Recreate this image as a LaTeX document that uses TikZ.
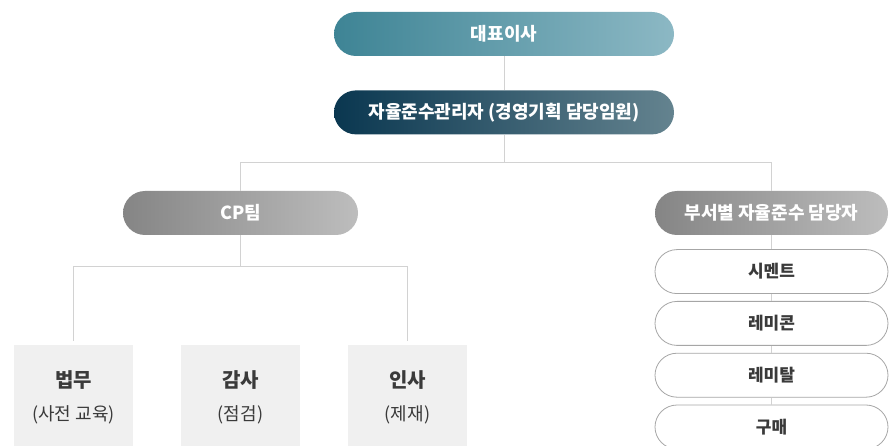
\documentclass[tikz,border=0pt]{standalone}
\usepackage{fontspec}
\setmainfont{Noto Sans CJK KR}
\usepackage{xcolor}
\usepackage{tikz}
\usetikzlibrary{positioning,calc}
\definecolor{ceoleft}{HTML}{3E8495}
\definecolor{ceoright}{HTML}{8CB8C4}
\definecolor{cpoleft}{HTML}{0A3750}
\definecolor{cporight}{HTML}{64838F}
\definecolor{teamleft}{HTML}{858585}
\definecolor{teamright}{HTML}{BDBDBD}
\definecolor{linegray}{HTML}{D2D2D2}
\definecolor{unitfill}{HTML}{F0F0F0}
\definecolor{textdark}{HTML}{3A3A3A}
\tikzset{
  pill/.style={rectangle, rounded corners=22pt, minimum width=340pt, minimum height=44pt, inner sep=0pt, align=center, text=white, font=\bfseries\fontsize{18}{20}\selectfont},
  ceobox/.style={pill, left color=ceoleft, middle color=ceoleft!75!ceoright, right color=ceoright},
  cpobox/.style={pill, left color=cpoleft, middle color=cpoleft!80!cporight, right color=cporight},
  teambox/.style={pill, minimum width=235pt, left color=teamleft, middle color=teamleft!75!teamright, right color=teamright},
  deptbox/.style={pill, minimum width=233pt, draw=black!35, line width=0.8pt, fill=white, text=textdark, font=\bfseries\fontsize{17}{19}\selectfont},
  unitbox/.style={rectangle, fill=unitfill, minimum width=119pt, minimum height=104pt, inner sep=0pt, align=center, text=textdark, font=\fontsize{18}{20}\selectfont},
  link/.style={draw=linegray, line width=1pt},
}
\newcommand{\unithead}[1]{{\bfseries\fontsize{20}{22}\selectfont #1}}

\begin{document}
\begin{tikzpicture}[x=1pt,y=-1pt]
  \useasboundingbox (0,0) rectangle (889,446);
  \clip (0,0) rectangle (889,446);

  % top of the chart
  \node[ceobox] (ceo) at (504,34) {대표이사};
  \node[cpobox, below=34pt of ceo] (cpo) {자율준수관리자 (경영기획 담당임원)};
  \coordinate (hub) at ($(cpo.south)+(0,28)$);

  % teams
  \node[teambox] (cp) at (240.5,213) {CP팀};
  \node[teambox, minimum width=233pt] (dept) at (771.5,213) {부서별 자율준수 담당자};

  \draw[link] (ceo) -- (cpo);
  \draw[link] (cpo) -- (hub);
  \draw[link] (cp.north) |- (hub) -| (dept.north);

  % CP units
  \node[unitbox] (law) at (73.5,397) {\unithead{법무}\\[13pt](사전 교육)};
  \node[unitbox] (audit) at (240.5,397) {\unithead{감사}\\[13pt](점검)};
  \node[unitbox] (hr) at (407.5,397) {\unithead{인사}\\[13pt](제재)};
  \coordinate (cpjoin) at ($(cp.south)+(0,31)$);

  \draw[link] (cp) -- (cpjoin);
  \draw[link, shorten <=4pt, shorten >=4pt] (law.north) |- (cpjoin) -| (hr.north);

  % departments
  \node[deptbox, below=14pt of dept] (cement) {시멘트};
  \node[deptbox, below=7pt of cement] (remicon) {레미콘};
  \node[deptbox, below=7pt of remicon] (remital) {레미탈};
  \node[deptbox, below=7pt of remital] (purchase) {구매};

  \draw[link] (dept) -- (cement);
  \draw[link] (cement) -- (remicon);
  \draw[link] (remicon) -- (remital);
  \draw[link] (remital) -- (purchase);

\end{tikzpicture}
\end{document}
